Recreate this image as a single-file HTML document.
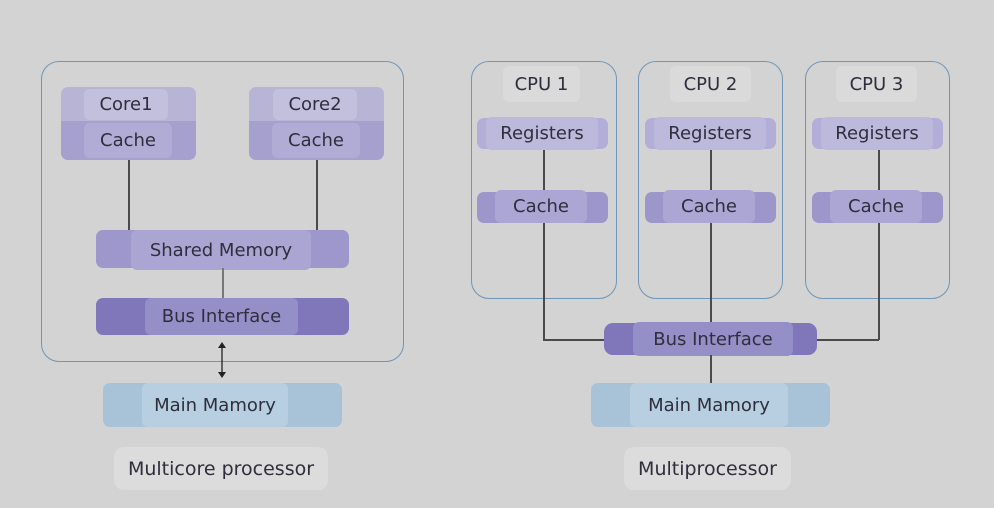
<!DOCTYPE html>
<html><head><meta charset="utf-8"><style>
body{margin:0;width:994px;height:508px;background:#d3d3d3;position:relative;overflow:hidden;font-family:"DejaVu Sans","Liberation Sans",sans-serif;color:#2e2e3c}
div{position:absolute;box-sizing:border-box}
.c{border:1.5px solid #6f96b8;border-radius:18px}
.b{border-radius:7px}
.l{display:flex;align-items:center;justify-content:center;font-size:18px;border-radius:6px;white-space:nowrap}
.v{background:#4a4a4a;width:1.5px}
.h{background:#4a4a4a;height:1.5px}
</style></head><body>
<!-- left -->
<div class="c" style="left:41px;top:61px;width:363px;height:301px"></div>
<div class="b" style="left:61px;top:87px;width:135px;height:35px;background:#b8b4d6;border-radius:7px 7px 0 0"></div>
<div class="b" style="left:61px;top:121px;width:135px;height:39px;background:#a5a0cd;border-radius:0 0 7px 7px"></div>
<div class="l" style="left:84px;top:89px;width:84px;height:31px;background:#c3c0de">Core1</div>
<div class="l" style="left:84px;top:123px;width:88px;height:35px;background:#b1acd5">Cache</div>
<div class="b" style="left:249px;top:87px;width:135px;height:35px;background:#b8b4d6;border-radius:7px 7px 0 0"></div>
<div class="b" style="left:249px;top:121px;width:135px;height:39px;background:#a5a0cd;border-radius:0 0 7px 7px"></div>
<div class="l" style="left:273px;top:89px;width:84px;height:31px;background:#c3c0de">Core2</div>
<div class="l" style="left:272px;top:123px;width:88px;height:35px;background:#b1acd5">Cache</div>
<div class="v" style="left:128px;top:160px;height:70px"></div>
<div class="v" style="left:316px;top:160px;height:70px"></div>
<div class="b" style="left:96px;top:230px;width:253px;height:38px;background:#9d97cb"></div>
<div class="l" style="left:131px;top:230px;width:180px;height:40px;background:#aaa5d3">Shared Memory</div>
<div class="v" style="left:222px;top:268px;height:30px;background:#777"></div>
<div class="b" style="left:96px;top:298px;width:253px;height:37px;background:#7f77ba"></div>
<div class="l" style="left:145px;top:298px;width:153px;height:37px;background:#958fc8">Bus Interface</div>
<svg style="position:absolute;left:214px;top:340px" width="16" height="40"><line x1="8" y1="6" x2="8" y2="34" stroke="#222" stroke-width="1.3"/><polygon points="4,8 8,2 12,8" fill="#222"/><polygon points="4,32 8,38 12,32" fill="#222"/></svg>
<div class="b" style="left:103px;top:383px;width:239px;height:44px;background:#a8c2d8"></div>
<div class="l" style="left:142px;top:383px;width:146px;height:44px;background:#b7cfe1">Main Mamory</div>
<div class="l" style="left:114px;top:447px;width:214px;height:43px;background:#dcdcdc;border-radius:10px;font-size:19px">Multicore processor</div>
<!-- right -->
<div class="c" style="left:471px;top:61px;width:146px;height:238px"></div>
<div class="c" style="left:638px;top:61px;width:145px;height:238px"></div>
<div class="c" style="left:805px;top:61px;width:145px;height:238px"></div>
<div class="v" style="left:543px;top:149px;height:191px"></div>
<div class="h" style="left:543px;top:339px;width:62px"></div>
<div class="v" style="left:710px;top:149px;height:235px"></div>
<div class="v" style="left:878px;top:149px;height:191px"></div>
<div class="h" style="left:816px;top:339px;width:63px"></div>

<div class="l" style="left:503px;top:66px;width:77px;height:36px;background:#dadada">CPU 1</div>
<div class="l" style="left:670px;top:66px;width:81px;height:36px;background:#dadada">CPU 2</div>
<div class="l" style="left:836px;top:66px;width:81px;height:36px;background:#dadada">CPU 3</div>

<div class="b" style="left:477px;top:118px;width:131px;height:31px;background:#b3aed8"></div>
<div class="l" style="left:486px;top:117px;width:112px;height:33px;background:#bdb9dc">Registers</div>
<div class="b" style="left:477px;top:192px;width:131px;height:31px;background:#9c96cb"></div>
<div class="l" style="left:495px;top:190px;width:92px;height:33px;background:#aba6d4">Cache</div>

<div class="b" style="left:645px;top:118px;width:131px;height:31px;background:#b3aed8"></div>
<div class="l" style="left:654px;top:117px;width:112px;height:33px;background:#bdb9dc">Registers</div>
<div class="b" style="left:645px;top:192px;width:131px;height:31px;background:#9c96cb"></div>
<div class="l" style="left:663px;top:190px;width:92px;height:33px;background:#aba6d4">Cache</div>

<div class="b" style="left:812px;top:118px;width:131px;height:31px;background:#b3aed8"></div>
<div class="l" style="left:821px;top:117px;width:112px;height:33px;background:#bdb9dc">Registers</div>
<div class="b" style="left:812px;top:192px;width:131px;height:31px;background:#9c96cb"></div>
<div class="l" style="left:830px;top:190px;width:92px;height:33px;background:#aba6d4">Cache</div>

<div class="b" style="left:604px;top:323px;width:213px;height:32px;background:#7f77ba;border-radius:9px"></div>
<div class="l" style="left:633px;top:322px;width:160px;height:34px;background:#958fc8">Bus Interface</div>
<div class="v" style="left:710px;top:355px;height:29px"></div>
<div class="b" style="left:591px;top:383px;width:239px;height:44px;background:#a8c2d8"></div>
<div class="l" style="left:630px;top:383px;width:158px;height:44px;background:#b7cfe1">Main Mamory</div>
<div class="l" style="left:624px;top:447px;width:167px;height:43px;background:#dcdcdc;border-radius:10px;font-size:19px">Multiprocessor</div>
</body></html>
